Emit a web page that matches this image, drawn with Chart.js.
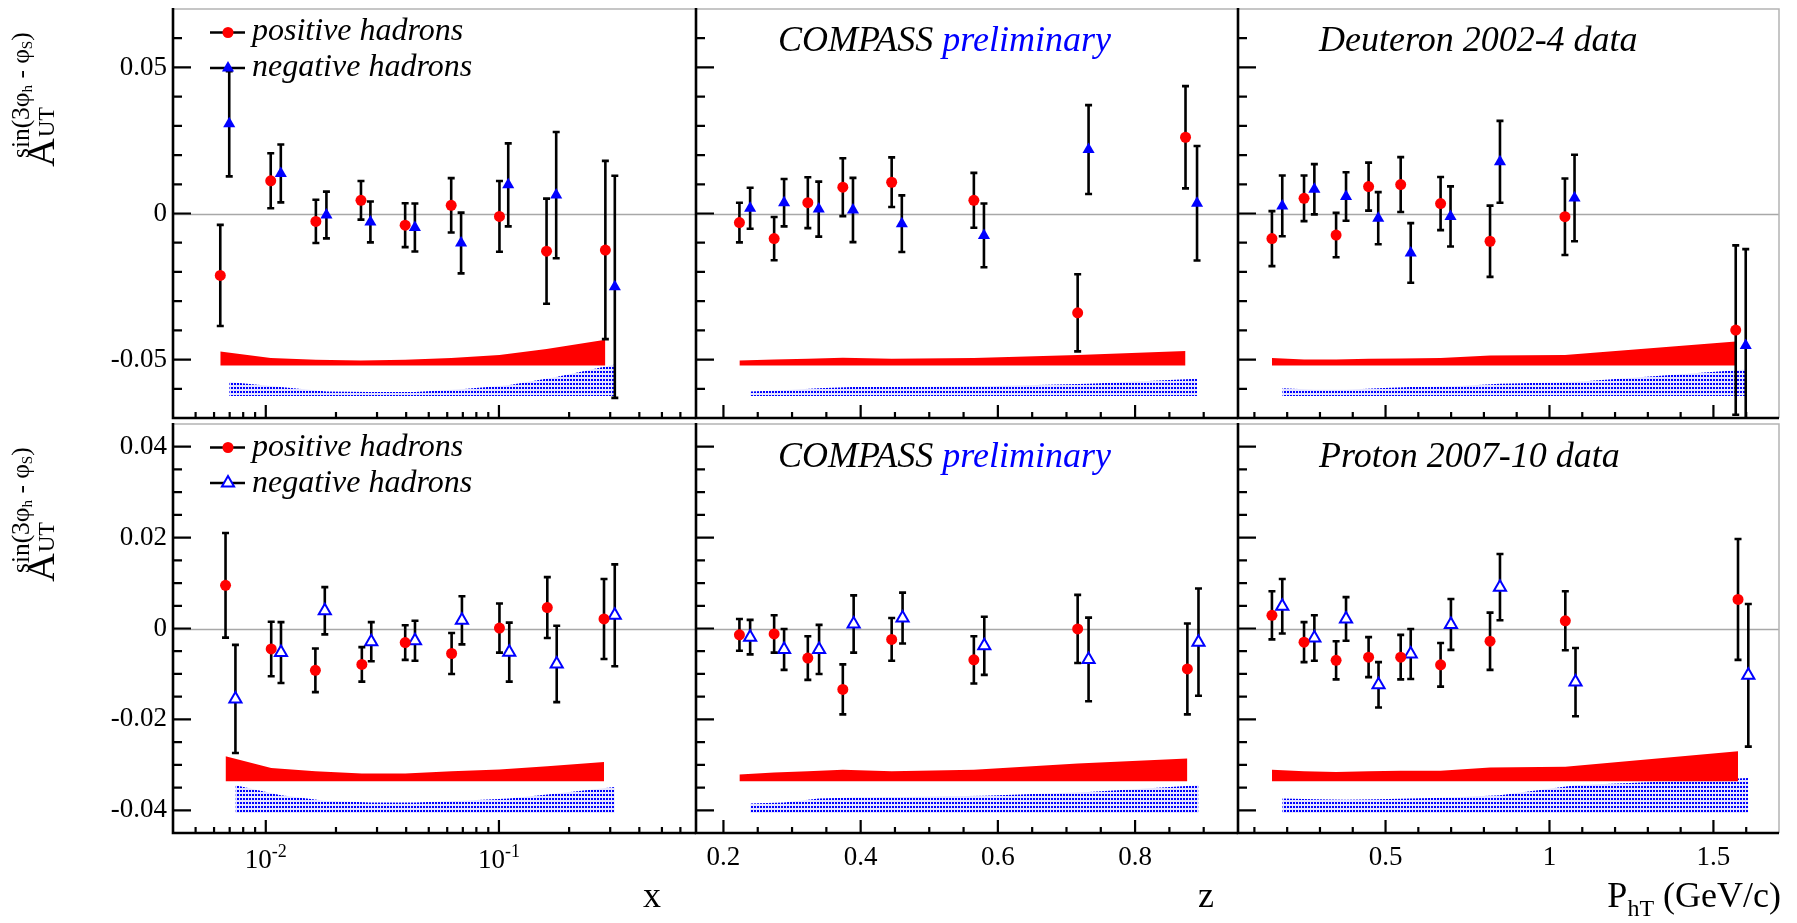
<!DOCTYPE html>
<html>
<head>
<meta charset="utf-8">
<script src="https://cdn.jsdelivr.net/npm/chart.js@4.4.1/dist/chart.umd.min.js"></script>
<style>
    body { margin: 0; background: #fff; }
    #page { position: relative; width: 1797px; height: 923px; overflow: hidden; font-family: "Liberation Serif", "Times New Roman", Times, "DejaVu Serif", serif; color: #000; }
    #plots, #texts { position: absolute; left: 0; top: 0; width: 1797px; height: 923px; }
    #plots canvas { position: absolute; }
    .t { position: absolute; white-space: nowrap; line-height: 1; }
    .leg { font-size: 32px; font-style: italic; left: 252px; }
    .ttl { font-size: 36px; font-style: italic; }
    .ax { font-size: 36px; top: 877px; }
    .ytitle { position: absolute; left: 0; width: 200px; height: 70px; transform: rotate(-90deg); transform-origin: 0 0; white-space: nowrap; }
    .ytitle span.p { position: absolute; line-height: 1; white-space: nowrap; }
    .sb { font-size: 0.6em; position: relative; top: 0.22em; }
</style>
</head>
<body>
<div id="page">
    <div id="plots"></div>
    <div id="texts">
        <!-- legende -->
        <div class="t leg" style="top:13px">positive hadrons</div>
        <div class="t leg" style="top:49px">negative hadrons</div>
        <div class="t leg" style="top:429px">positive hadrons</div>
        <div class="t leg" style="top:465px">negative hadrons</div>
        <!-- panel basliklari -->
        <div class="t ttl" style="left:778px;top:21px">COMPASS <span style="color:#0000ff">preliminary</span></div>
        <div class="t ttl" style="left:778px;top:437px">COMPASS <span style="color:#0000ff">preliminary</span></div>
        <div class="t ttl" style="left:1319px;top:21px">Deuteron 2002-4 data</div>
        <div class="t ttl" style="left:1319px;top:437px">Proton 2007-10 data</div>
        <!-- eksen basliklari -->
        <div class="t ax" style="left:643px">x</div>
        <div class="t ax" style="left:1198px">z</div>
        <div class="t ax" style="right:16px">P<span style="font-size:24px;position:relative;top:9px">hT</span> (GeV/c)</div>
        <div class="ytitle" data-start="167">
            <span class="p" style="font-size:40px">A</span>
            <span class="p" style="font-size:24px">UT</span>
            <span class="p" style="font-size:25px">sin(3φ<span class="sb">h</span> - φ<span class="sb">S</span>)</span>
        </div>
        <div class="ytitle" data-start="582">
            <span class="p" style="font-size:40px">A</span>
            <span class="p" style="font-size:24px">UT</span>
            <span class="p" style="font-size:25px">sin(3φ<span class="sb">h</span> - φ<span class="sb">S</span>)</span>
        </div>
    </div>
</div>
<script>
/* ---------- Deuteron 2002-4 : x ---------- */
const dxPosX = [0.00638, 0.0105, 0.0164, 0.0256, 0.0396, 0.0624, 0.1005, 0.160, 0.286];
const dxPosY = [-0.0212, 0.0112, -0.0027, 0.0045, -0.0040, 0.0028, -0.0010, -0.0129, -0.0125];
const dxPosE = [0.0173, 0.0094, 0.0074, 0.0066, 0.0075, 0.0093, 0.0121, 0.0180, 0.0305];
const dxNegX = [0.00697, 0.0116, 0.0182, 0.0281, 0.0436, 0.0688, 0.1096, 0.176, 0.314];
const dxNegY = [0.0307, 0.0137, -0.0005, -0.0029, -0.0048, -0.0101, 0.0098, 0.0063, -0.0251];
const dxNegE = [0.0180, 0.0099, 0.0080, 0.0070, 0.0082, 0.0104, 0.0142, 0.0216, 0.0380];
const dxPosSys = [-0.0472, -0.0495, -0.0501, -0.0503, -0.0501, -0.0495, -0.0484, -0.0464, -0.0432];
const dxNegSys = [-0.0577, -0.0594, -0.0609, -0.0611, -0.0611, -0.0602, -0.0588, -0.0560, -0.0517];

/* ---------- Deuteron 2002-4 : z ---------- */
const dzPosX = [0.2233, 0.2739, 0.3230, 0.3740, 0.4452, 0.5650, 0.7163, 0.8735];
const dzPosY = [-0.0031, -0.0086, 0.0037, 0.0090, 0.0107, 0.0045, -0.0340, 0.0261];
const dzPosE = [0.0068, 0.0074, 0.0087, 0.0099, 0.0085, 0.0094, 0.0132, 0.0175];
const dzNegX = [0.2389, 0.2884, 0.3389, 0.3888, 0.4600, 0.5797, 0.7322, 0.8903];
const dzNegY = [0.0018, 0.0037, 0.0015, 0.0012, -0.0035, -0.0075, 0.0219, 0.0035];
const dzNegE = [0.0070, 0.0081, 0.0094, 0.0110, 0.0097, 0.0109, 0.0152, 0.0196];
const dzPosSys = [-0.0503, -0.0500, -0.0497, -0.0494, -0.0497, -0.0495, -0.0484, -0.0471];
const dzNegSys = [-0.0609, -0.0605, -0.0598, -0.0594, -0.0594, -0.0591, -0.0583, -0.0566];

/* ---------- Deuteron 2002-4 : PhT ---------- */
const dpPosX = [0.1535, 0.2514, 0.3492, 0.4483, 0.5462, 0.6679, 0.8187, 1.0471, 1.568];
const dpPosY = [-0.0086, 0.0052, -0.0074, 0.0092, 0.0099, 0.0034, -0.0095, -0.0011, -0.0399];
const dpPosE = [0.0094, 0.0078, 0.0076, 0.0082, 0.0094, 0.0091, 0.0122, 0.0131, 0.0290];
const dpNegX = [0.185, 0.2829, 0.3795, 0.4777, 0.5768, 0.6982, 0.8490, 1.0764, 1.5985];
const dpNegY = [0.0026, 0.0083, 0.0058, -0.0016, -0.0135, -0.0010, 0.0177, 0.0053, -0.0452];
const dpNegE = [0.0104, 0.0086, 0.0083, 0.0089, 0.0102, 0.0103, 0.0140, 0.0148, 0.0330];
const dpPosSys = [-0.0495, -0.0500, -0.0500, -0.0497, -0.0496, -0.0495, -0.0486, -0.0484, -0.0438];
const dpNegSys = [-0.0598, -0.0603, -0.0603, -0.0598, -0.0594, -0.0592, -0.0583, -0.0577, -0.0534];

/* ---------- Proton 2007-10 : x ---------- */
const pxPosX = [0.00672, 0.01055, 0.01632, 0.02582, 0.03962, 0.06266, 0.1005, 0.1612, 0.2822];
const pxPosY = [0.0095, -0.0045, -0.0092, -0.0079, -0.0031, -0.0055, 0.0001, 0.0046, 0.0021];
const pxPosE = [0.0115, 0.0060, 0.0048, 0.0038, 0.0038, 0.0045, 0.0054, 0.0067, 0.0088];
const pxNegX = [0.00741, 0.01162, 0.01791, 0.02834, 0.04364, 0.06938, 0.1107, 0.1769, 0.3138];
const pxNegY = [-0.0155, -0.0053, 0.0039, -0.0029, -0.0027, 0.0018, -0.0052, -0.0078, 0.0029];
const pxNegE = [0.0119, 0.0067, 0.0052, 0.0043, 0.0044, 0.0053, 0.0065, 0.0084, 0.0112];
const pxPosSys = [-0.0281, -0.0307, -0.0314, -0.0319, -0.0319, -0.0314, -0.0310, -0.0303, -0.0294];
const pxNegSys = [-0.0345, -0.0367, -0.0379, -0.0383, -0.0383, -0.0379, -0.0374, -0.0363, -0.0349];

/* ---------- Proton 2007-10 : z ---------- */
const pzPosX = [0.2233, 0.2739, 0.3230, 0.3740, 0.4452, 0.5650, 0.7163, 0.8762];
const pzPosY = [-0.0014, -0.0012, -0.0065, -0.0134, -0.0024, -0.0069, -0.0001, -0.0089];
const pzPosE = [0.0035, 0.0041, 0.0048, 0.0055, 0.0047, 0.0052, 0.0075, 0.0100];
const pzNegX = [0.2389, 0.2884, 0.3394, 0.3898, 0.4611, 0.5802, 0.7322, 0.8924];
const pzNegY = [-0.0019, -0.0046, -0.0046, 0.0010, 0.0023, -0.0038, -0.0068, -0.0030];
const pzNegE = [0.0038, 0.0045, 0.0054, 0.0063, 0.0056, 0.0064, 0.0092, 0.0118];
const pzPosSys = [-0.0321, -0.0317, -0.0314, -0.0311, -0.0314, -0.0311, -0.0297, -0.0286];
const pzNegSys = [-0.0385, -0.0383, -0.0374, -0.0372, -0.0371, -0.0368, -0.0360, -0.0345];

/* ---------- Proton 2007-10 : PhT ---------- */
const ppPosX = [0.1535, 0.2514, 0.3492, 0.4483, 0.5462, 0.6679, 0.8187, 1.0483, 1.575];
const ppPosY = [0.0029, -0.0030, -0.0070, -0.0063, -0.0063, -0.0080, -0.0028, 0.0017, 0.0064];
const ppPosE = [0.0053, 0.0044, 0.0042, 0.0044, 0.0049, 0.0048, 0.0063, 0.0065, 0.0133];
const ppNegX = [0.185, 0.2829, 0.3795, 0.4786, 0.5768, 0.6994, 0.8490, 1.0794, 1.6064];
const ppNegY = [0.0049, -0.0021, 0.0021, -0.0124, -0.0056, 0.0009, 0.0091, -0.0118, -0.0103];
const ppNegE = [0.0060, 0.0050, 0.0048, 0.0050, 0.0055, 0.0056, 0.0073, 0.0075, 0.0157];
const ppPosSys = [-0.0311, -0.0314, -0.0316, -0.0314, -0.0313, -0.0313, -0.0306, -0.0304, -0.0270];
const ppNegSys = [-0.0374, -0.0376, -0.0377, -0.0376, -0.0374, -0.0372, -0.0367, -0.0345, -0.0329];

/* ---------- Eksenler ---------- */
const xLogRange = [0.004, 0.7];
const zRange = [0.16, 0.95];
const ptRange = [0.05, 1.7];
const yDeutRange = [-0.07, 0.07];
const yProtRange = [-0.045, 0.045];
const yDeutLabels = [-0.05, 0, 0.05];
const yProtLabels = [-0.04, -0.02, 0, 0.02, 0.04];
const zLabels = [0.2, 0.4, 0.6, 0.8];
const ptLabels = [0.5, 1, 1.5];
const xLogLabels = [[0.01, '-2'], [0.1, '-1']];
const deutBase = [-0.052, -0.0625];   // sistematik bant tabanlari (kirmizi, mavi)
const protBase = [-0.0336, -0.0406];

/* ---------- Yerlesim ---------- */
const COLS = [[173, 696], [696, 1238], [1238, 1779]];
const ROWS = [[9, 418], [424, 833]];
const ML = 80, MR = 30, MT = 30, MB = 60;
const FONT = '"Liberation Serif", "Times New Roman", Times, "DejaVu Serif", serif';
Chart.defaults.font.family = FONT;

function steps(from, to, step, skip) {
    const out = [];
    for (let v = from; v <= to + 1e-9; v += step) {
        const r = Math.round(v * 1e4) / 1e4;
        if (!skip.some(s => Math.abs(s - r) < 1e-6)) out.push(r);
    }
    return out;
}
const logMinor = [];
[0.001, 0.01, 0.1].forEach(d => { for (let k = 2; k <= 9; k++) { const v = +(k * d).toFixed(4); if (v > 0.004 && v < 0.7) logMinor.push(v); } });

const tickSets = {
    log: { major: [0.01, 0.1], minor: logMinor.filter(v => v !== 0.01 && v !== 0.1) },
    z: { major: zLabels, minor: steps(0.25, 0.9, 0.05, zLabels) },
    pt: { major: ptLabels, minor: steps(0.1, 1.6, 0.1, ptLabels) },
    yD: { major: yDeutLabels, minor: steps(-0.06, 0.06, 0.01, yDeutLabels) },
    yP: { major: yProtLabels, minor: steps(-0.04, 0.04, 0.005, yProtLabels) }
};

/* ---------- Y ekseni basligi: genislige gore olcekle ---------- */
// [hedef uzunluk, baslangic kaymasi, taban cizgisi x] — A, UT, ust simge
const titleFit = [[29, 0, 54], [30, 30, 55], [126, 9, 29]];
function fitYTitle(div) {
    div.style.top = div.dataset.start + 'px';
    div.querySelectorAll('span.p').forEach((el, i) => {
        const [len, u, base] = titleFit[i];
        const fs = parseFloat(el.style.fontSize);
        const nfs = fs * len / el.offsetWidth;
        el.style.fontSize = nfs.toFixed(2) + 'px';
        el.style.left = u + 'px';
        el.style.top = (base - 0.8375 * nfs).toFixed(1) + 'px';
    });
}

/* ---------- Cerceve, tikler, hata cubuklari ---------- */
const framePlugin = {
    id: 'frame',
    beforeDatasetsDraw(chart) {
        const { ctx, chartArea: a, scales: { y } } = chart;
        const p = Math.round(y.getPixelForValue(0)) + 0.5;
        ctx.save();
        ctx.strokeStyle = '#a8a8a8'; ctx.lineWidth = 1.3;
        ctx.beginPath(); ctx.moveTo(a.left, p); ctx.lineTo(a.right, p); ctx.stroke();
        ctx.restore();
    },
    beforeDatasetDraw(chart, args) {
        const ds = chart.data.datasets[args.index];
        if (!ds.errors) return;
        const { ctx, chartArea: a, scales: { x, y } } = chart;
        ctx.save();
        ctx.beginPath(); ctx.rect(a.left, a.top, a.right - a.left, a.bottom - a.top); ctx.clip();
        ctx.strokeStyle = '#000'; ctx.lineWidth = 2.6;
        ds.data.forEach((pt, i) => {
            const px = x.getPixelForValue(pt.x);
            const yt = y.getPixelForValue(pt.y + ds.errors[i]);
            const yb = y.getPixelForValue(pt.y - ds.errors[i]);
            ctx.beginPath();
            ctx.moveTo(px, yt); ctx.lineTo(px, yb);
            ctx.moveTo(px - 3.5, yt); ctx.lineTo(px + 3.5, yt);
            ctx.moveTo(px - 3.5, yb); ctx.lineTo(px + 3.5, yb);
            ctx.stroke();
        });
        ctx.restore();
    },
    afterDraw(chart) {
        const { ctx, chartArea: a, scales: { x, y } } = chart;
        const o = chart.options.plugins.frame;
        ctx.save();
        ctx.strokeStyle = '#b4b4b4'; ctx.lineWidth = 1.5;
        ctx.beginPath(); ctx.moveTo(a.left, a.top); ctx.lineTo(a.right, a.top); ctx.lineTo(a.right, a.bottom); ctx.stroke();
        ctx.strokeStyle = '#000'; ctx.lineWidth = 2.6;
        ctx.beginPath(); ctx.moveTo(a.left, a.top - 1); ctx.lineTo(a.left, a.bottom); ctx.lineTo(a.right, a.bottom); ctx.stroke();
        ctx.lineWidth = 2.2;
        ctx.beginPath();
        o.yTicks.major.forEach(v => { const p = y.getPixelForValue(v); ctx.moveTo(a.left, p); ctx.lineTo(a.left + 18, p); });
        o.yTicks.minor.forEach(v => { const p = y.getPixelForValue(v); ctx.moveTo(a.left, p); ctx.lineTo(a.left + 9, p); });
        o.xTicks.major.forEach(v => { const p = x.getPixelForValue(v); ctx.moveTo(p, a.bottom); ctx.lineTo(p, a.bottom - 13); });
        o.xTicks.minor.forEach(v => { const p = x.getPixelForValue(v); ctx.moveTo(p, a.bottom); ctx.lineTo(p, a.bottom - 6); });
        ctx.stroke();

        // log ekseni etiketleri: 10 ve ust simge
        if (o.logLabels) {
            ctx.fillStyle = '#000'; ctx.textBaseline = 'alphabetic'; ctx.textAlign = 'left';
            const base = a.bottom + 35;
            o.logLabels.forEach(([v, e]) => {
                const px = x.getPixelForValue(v);
                ctx.font = '27px ' + FONT; const w1 = ctx.measureText('10').width;
                ctx.font = '18px ' + FONT; const w2 = ctx.measureText(e).width;
                const x0 = px - (w1 + w2) / 2;
                ctx.font = '27px ' + FONT; ctx.fillText('10', x0, base);
                ctx.font = '18px ' + FONT; ctx.fillText(e, x0 + w1, base - 11);
            });
        }

        // lejant sembolleri
        if (o.legend) {
            const lx = a.left + 37, rx = a.left + 72, mx = a.left + 55;
            [[a.top + 23.5, 'pos'], [a.top + 59, 'neg']].forEach(([ly, kind]) => {
                ctx.strokeStyle = '#000'; ctx.lineWidth = 2.6;
                ctx.beginPath(); ctx.moveTo(lx, ly); ctx.lineTo(rx, ly); ctx.stroke();
                if (kind === 'pos') {
                    ctx.fillStyle = '#ff0000';
                    Chart.helpers.drawPoint(ctx, { pointStyle: 'circle', radius: 5.5, rotation: 0, borderWidth: 0 }, mx, ly);
                } else {
                    ctx.fillStyle = o.open ? '#ffffff' : '#0000ff'; ctx.strokeStyle = '#0000ff'; ctx.lineWidth = 2;
                    Chart.helpers.drawPoint(ctx, { pointStyle: 'triangle', radius: 7, rotation: 0, borderWidth: o.open ? 2 : 0 }, mx, ly);
                }
            });
        }
        ctx.restore();
    }
};

function dotPattern(ctx) {
    const tile = document.createElement('canvas');
    tile.width = 3; tile.height = 4;
    const g = tile.getContext('2d');
    g.fillStyle = 'rgba(0,0,255,0.10)'; g.fillRect(0, 0, 3, 4);
    g.fillStyle = '#0000ff'; g.fillRect(0, 0, 2, 2);
    return ctx.createPattern(tile, 'repeat');
}

const pts = (xs, ys) => xs.map((x, i) => ({ x, y: ys[i] }));

function makePanel(p) {
    const [x0, x1] = COLS[p.col], [y0, y1] = ROWS[p.row];
    const cv = document.createElement('canvas');
    cv.width = x1 - x0 + ML + MR; cv.height = y1 - y0 + MT + MB;
    cv.style.left = (x0 - ML) + 'px'; cv.style.top = (y0 - MT) + 'px';
    document.getElementById('plots').appendChild(cv);
    const ctx = cv.getContext('2d');
    const s = p.data;

    const datasets = [
        { data: pts(s[0], s[1]), errors: s[2], showLine: false, pointStyle: 'circle', pointRadius: 5.5,
          pointBackgroundColor: '#ff0000', pointBorderWidth: 0, order: 0 },
        { data: pts(s[3], s[4]), errors: s[5], showLine: false, pointStyle: 'triangle', pointRadius: 7,
          pointBackgroundColor: p.open ? '#ffffff' : '#0000ff', pointBorderColor: '#0000ff', pointBorderWidth: p.open ? 2 : 0, order: 1 },
        { data: pts(s[0], s[6]), fill: { value: p.base[0] }, backgroundColor: '#ff0000',
          borderColor: 'rgba(0,0,0,0)', borderWidth: 0, pointRadius: 0, order: 3 },
        { data: pts(s[3], s[7]), fill: { value: p.base[1] }, backgroundColor: dotPattern(ctx),
          borderColor: 'rgba(0,0,0,0)', borderWidth: 0, pointRadius: 0, order: 4 }
    ];

    const xScale = {
        type: p.xType === 'log' ? 'logarithmic' : 'linear',
        min: p.xRange[0], max: p.xRange[1],
        grid: { display: false, drawTicks: false, tickLength: 0 },
        border: { display: false },
        afterBuildTicks: sc => { sc.ticks = (p.xLabels || []).map(v => ({ value: v })); },
        afterFit: sc => { sc.height = MB; },
        ticks: { display: p.showX && p.xType !== 'log', autoSkip: false, maxRotation: 0, padding: 9,
                 color: '#000', font: { size: 27 }, callback: v => String(v) }
    };
    const yScale = {
        type: 'linear', min: p.yRange[0], max: p.yRange[1],
        grid: { display: false, drawTicks: false, tickLength: 0 },
        border: { display: false },
        afterBuildTicks: sc => { sc.ticks = p.yLabels.map(v => ({ value: v })); },
        afterFit: sc => { sc.width = ML; },
        ticks: { display: p.showY, autoSkip: false, padding: 6, color: '#000', font: { size: 27 }, callback: v => String(v) }
    };

    new Chart(ctx, {
        type: 'line',
        data: { datasets },
        options: {
            responsive: false, animation: false, events: [],
            layout: { padding: { top: MT, right: MR, left: 0, bottom: 0 } },
            scales: { x: xScale, y: yScale },
            plugins: {
                legend: { display: false }, tooltip: { enabled: false },
                frame: {
                    xTicks: tickSets[p.xType], yTicks: p.row === 0 ? tickSets.yD : tickSets.yP,
                    logLabels: p.xType === 'log' && p.showX ? xLogLabels : null,
                    legend: p.col === 0, open: p.open
                }
            }
        },
        plugins: [framePlugin]
    });
}

document.addEventListener('DOMContentLoaded', () => {
    document.querySelectorAll('.ytitle').forEach(fitYTitle);
    const panels = [
        { col: 0, row: 0, xType: 'log', xRange: xLogRange, xLabels: [0.01, 0.1], yRange: yDeutRange, yLabels: yDeutLabels, showY: true, showX: false, open: false, base: deutBase,
          data: [dxPosX, dxPosY, dxPosE, dxNegX, dxNegY, dxNegE, dxPosSys, dxNegSys] },
        { col: 1, row: 0, xType: 'z', xRange: zRange, xLabels: zLabels, yRange: yDeutRange, yLabels: yDeutLabels, showY: false, showX: false, open: false, base: deutBase,
          data: [dzPosX, dzPosY, dzPosE, dzNegX, dzNegY, dzNegE, dzPosSys, dzNegSys] },
        { col: 2, row: 0, xType: 'pt', xRange: ptRange, xLabels: ptLabels, yRange: yDeutRange, yLabels: yDeutLabels, showY: false, showX: false, open: false, base: deutBase,
          data: [dpPosX, dpPosY, dpPosE, dpNegX, dpNegY, dpNegE, dpPosSys, dpNegSys] },
        { col: 0, row: 1, xType: 'log', xRange: xLogRange, xLabels: [0.01, 0.1], yRange: yProtRange, yLabels: yProtLabels, showY: true, showX: true, open: true, base: protBase,
          data: [pxPosX, pxPosY, pxPosE, pxNegX, pxNegY, pxNegE, pxPosSys, pxNegSys] },
        { col: 1, row: 1, xType: 'z', xRange: zRange, xLabels: zLabels, yRange: yProtRange, yLabels: yProtLabels, showY: false, showX: true, open: true, base: protBase,
          data: [pzPosX, pzPosY, pzPosE, pzNegX, pzNegY, pzNegE, pzPosSys, pzNegSys] },
        { col: 2, row: 1, xType: 'pt', xRange: ptRange, xLabels: ptLabels, yRange: yProtRange, yLabels: yProtLabels, showY: false, showX: true, open: true, base: protBase,
          data: [ppPosX, ppPosY, ppPosE, ppNegX, ppNegY, ppNegE, ppPosSys, ppNegSys] }
    ];
    panels.forEach(makePanel);
});
</script>
</body>
</html>
